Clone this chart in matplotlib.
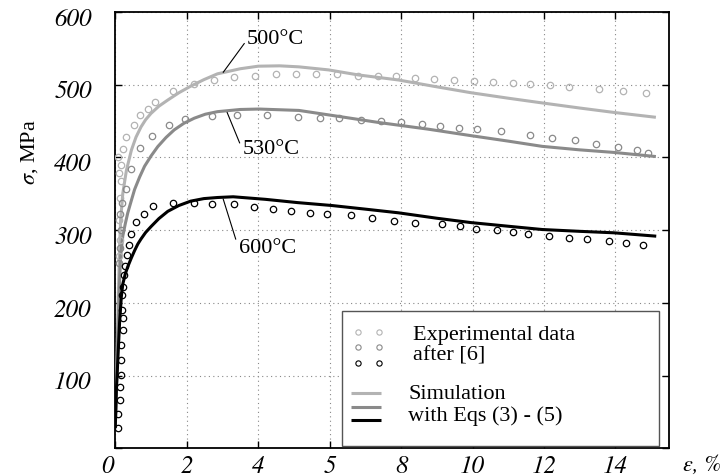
import matplotlib
matplotlib.use("Agg")
import matplotlib.pyplot as plt
from matplotlib.patches import Rectangle
from matplotlib.transforms import ScaledTranslation

plt.rcParams['font.family'] = ['Liberation Serif', 'DejaVu Serif']
plt.rcParams['mathtext.fontset'] = 'stix'
ITALIC = ['STIXGeneral', 'DejaVu Serif']

# --- experimental points ---
exp500_x = [0.1, 0.12, 0.1, 0.12, 0.15, 0.1, 0.15, 0.08, 0.21, 0.31, 0.51, 0.68, 0.91, 1.12,
            1.61, 2.19, 2.77, 3.33, 3.91, 4.49, 5.06, 5.62, 6.2, 6.79, 7.34, 7.86, 8.4, 8.92,
            9.48, 10.03, 10.58, 11.14, 11.61, 12.17, 12.71, 13.53, 14.2, 14.85]
exp500_y = [264, 287, 314, 345, 367, 379, 390, 401, 412, 428, 444, 458, 467, 476,
            491, 501, 507, 510.6, 512.4, 514.3, 515.2, 515.2, 514.3, 512.4, 512.4, 511.5, 509.2, 507.8,
            505.9, 504.6, 503.2, 501.8, 500.4, 499, 497.2, 494, 490.8, 488]

exp530_x = [0.1, 0.12, 0.15, 0.12, 0.2, 0.31, 0.45, 0.7, 1.02, 1.49, 1.96, 2.7, 3.42, 4.26,
            5.11, 5.74, 6.25, 6.87, 7.44, 8.01, 8.59, 9.08, 9.61, 10.13, 10.79, 11.61, 12.23,
            12.88, 13.46, 14.07, 14.6, 14.92]
exp530_y = [255, 275, 300, 323, 338, 357, 384, 413, 430, 444.5, 453, 456.4, 457.8, 458.3,
            455.6, 454.2, 454.6, 451.4, 450.5, 449.1, 445.4, 443.3, 441, 438.8, 436, 430.9, 427.3,
            423.6, 418.6, 414.9, 409.9, 405.8]

exp600_x = [0.075, 0.075, 0.12, 0.12, 0.15, 0.15, 0.17, 0.21, 0.21, 0.19, 0.19, 0.21, 0.24, 0.26,
            0.33, 0.37, 0.45, 0.58, 0.79, 1.05, 1.61, 2.19, 2.71, 3.32, 3.88, 4.42, 4.91, 5.44,
            5.92, 6.6, 7.18, 7.8, 8.4, 9.14, 9.64, 10.1, 10.68, 11.14, 11.54, 12.14, 12.7, 13.21,
            13.81, 14.3, 14.78]
exp600_y = [28, 47.7, 66, 84.7, 100.7, 121.4, 142, 162.6, 179, 190.6, 211, 222.6, 238.7, 251,
            266, 280, 295, 311, 322.7, 332.8, 337.5, 337.5, 335.6, 335.6, 331.9, 328.7, 326.8, 324.1,
            322.7, 320.4, 316.3, 313.1, 310.4, 308.5, 305.3, 302.2, 300.8, 297.6, 294.4, 292.6, 289.4, 288.5,
            285.3, 282.1, 279.8]

# --- simulation curves ---
sim500_x = [0.0, 0.03, 0.08, 0.12, 0.15, 0.21, 0.31, 0.45, 0.58, 0.72, 0.85, 1.0, 1.22, 1.47,
            1.78, 2.11, 2.48, 2.86, 3.5, 4.0, 4.6, 5.14, 5.97, 6.8, 7.92, 8.9, 9.96, 11.0,
            11.95, 13.0, 13.95, 15.09]
sim500_y = [30, 80, 200, 278, 314, 350.5, 382, 410, 428, 442, 452, 460.6, 470.5, 479,
            489, 498, 507, 515, 522, 525.5, 526, 524.6, 520.4, 513.5, 506.6, 498, 489, 481.5,
            475, 468, 462, 455.5]

sim530_x = [0.0, 0.03, 0.08, 0.12, 0.15, 0.21, 0.28, 0.35, 0.45, 0.54, 0.68, 0.82, 1.0, 1.19,
            1.42, 1.65, 1.92, 2.21, 2.52, 2.86, 3.5, 4.02, 5.14, 6.25, 7.36, 8.75, 9.96, 11.0,
            11.95, 13.0, 13.95, 15.09]
sim530_y = [30, 80, 170, 230, 264, 292, 309, 324, 341, 356, 373, 388, 402, 415,
            427.5, 438, 447, 454, 459.5, 463, 466, 466.6, 464.7, 456.5, 448.2, 439, 430, 422.5,
            415.3, 410.5, 407, 401.5]

sim600_x = [0.0, 0.03, 0.075, 0.12, 0.17, 0.21, 0.28, 0.35, 0.45, 0.54, 0.63, 0.72, 0.85, 1.0,
            1.22, 1.47, 1.78, 2.11, 2.48, 2.86, 3.3, 4.2, 5.1, 6.06, 7.0, 7.92, 9.0, 9.96,
            11.0, 11.95, 13.0, 13.95, 15.1]
sim600_y = [30, 80, 126, 173, 209, 226, 240, 250, 262, 272, 281, 288, 297, 305,
            316, 326, 334, 340, 343.5, 345, 346, 342.5, 338, 334, 329, 324, 316.5, 310.5,
            305.5, 301, 298.5, 296.5, 292]

xticks = [0, 2, 4, 6, 8, 10, 12, 14]
xtick_labels = ['0', '2', '4', '5', '8', '10', '12', '14']
yticks = [0, 100, 200, 300, 400, 500, 600]
ytick_labels = ['', '100', '200', '300', '400', '500', '600']

c500 = '#b3b3b3'
c530 = '#8a8a8a'
c600 = '#000000'

fig = plt.figure(figsize=(7.26, 4.76), dpi=100)
ax = fig.add_axes([0.1588, 0.0578, 0.7627, 0.917])

mk = dict(marker='o', linestyle='none', markersize=4.6, markerfacecolor='none', markeredgewidth=0.9)
ax.plot(sim500_x, sim500_y, color=c500, lw=2.2, zorder=3)
ax.plot(sim530_x, sim530_y, color=c530, lw=2.2, zorder=3)
ax.plot(exp500_x, exp500_y, markeredgecolor=c500, zorder=4, **mk)
ax.plot(exp530_x, exp530_y, markeredgecolor=c530, zorder=4, **mk)
ax.plot(sim600_x, sim600_y, color=c600, lw=2.2, zorder=3)
ax.plot(exp600_x, exp600_y, markeredgecolor=c600, zorder=4, **mk)

ax.set_xlim(0, 15.5)
ax.set_ylim(0, 600)
ax.set_xticks(xticks)
ax.set_xticklabels(xtick_labels)
ax.set_yticks(yticks)
ax.set_yticklabels(ytick_labels)
ax.tick_params(direction='in', top=True, right=True, length=5, width=1, labelsize=18)
ax.tick_params(axis='x', pad=5)
ax.tick_params(axis='y', pad=17)
for lab in ax.get_xticklabels() + ax.get_yticklabels():
    lab.set_family(ITALIC)
    lab.set_style('italic')
off = ScaledTranslation(0, -0.05, fig.dpi_scale_trans)
for lab in ax.get_yticklabels():
    lab.set_transform(lab.get_transform() + off)
zero = ax.get_xticklabels()[0]
zero.set_transform(zero.get_transform() + ScaledTranslation(-0.08, 0, fig.dpi_scale_trans))

ax.grid(True, linestyle=(0, (1, 3)), color='#888888', linewidth=0.8)
ax.set_axisbelow(True)
for s in ax.spines.values():
    s.set_linewidth(1.3)

ax.text(-0.155, 0.68, r'$\sigma$, MPa', rotation=90, transform=ax.transAxes,
        ha='center', va='center', fontsize=16)
ax.text(1.026, -0.038, 'ε, %', transform=ax.transAxes, ha='left', va='center',
        fontsize=16, family=ITALIC, style='italic')

# temperature labels with leader lines
arrow = dict(arrowstyle='-', lw=0.8, color='k', relpos=(0, 0.5), shrinkA=0, shrinkB=0)
ax.annotate('500°C', xy=(3.02, 517), xytext=(3.69, 562), va='center', ha='left',
            fontsize=16, arrowprops=arrow)
ax.annotate('530°C', xy=(3.13, 462), xytext=(3.56, 410.6), va='center', ha='left',
            fontsize=16, arrowprops=arrow)
ax.annotate('600°C', xy=(3.02, 343), xytext=(3.45, 275.4), va='center', ha='left',
            fontsize=16, arrowprops=arrow)

# hand-made legend box
ax.add_patch(Rectangle((0.409, 0.006), 0.5735, 0.31, transform=ax.transAxes,
                       facecolor='white', edgecolor='#555555', lw=1, zorder=5))
for yy, cc in zip([0.2676, 0.2318, 0.1952], [c500, c530, c600]):
    ax.plot([0.4378, 0.4763], [yy, yy], transform=ax.transAxes, marker='o', linestyle='none',
            markersize=3.8, markerfacecolor='none', markeredgecolor=cc, markeredgewidth=0.8,
            zorder=6, clip_on=False)
for yy, cc in zip([0.1278, 0.0958, 0.0653], [c500, c530, c600]):
    ax.plot([0.4251, 0.4793], [yy, yy], transform=ax.transAxes, color=cc, lw=2.2,
            zorder=6, solid_capstyle='butt')
ax.text(0.537, 0.2593, 'Experimental data', transform=ax.transAxes, va='center', fontsize=16, zorder=7)
ax.text(0.537, 0.2119, 'after [6]', transform=ax.transAxes, va='center', fontsize=16, zorder=7)
ax.text(0.529, 0.1226, 'Simulation', transform=ax.transAxes, va='center', fontsize=16, zorder=7)
ax.text(0.529, 0.0751, 'with Eqs (3) - (5)', transform=ax.transAxes, va='center', fontsize=16, zorder=7)

fig.savefig('out.png', dpi=100)
